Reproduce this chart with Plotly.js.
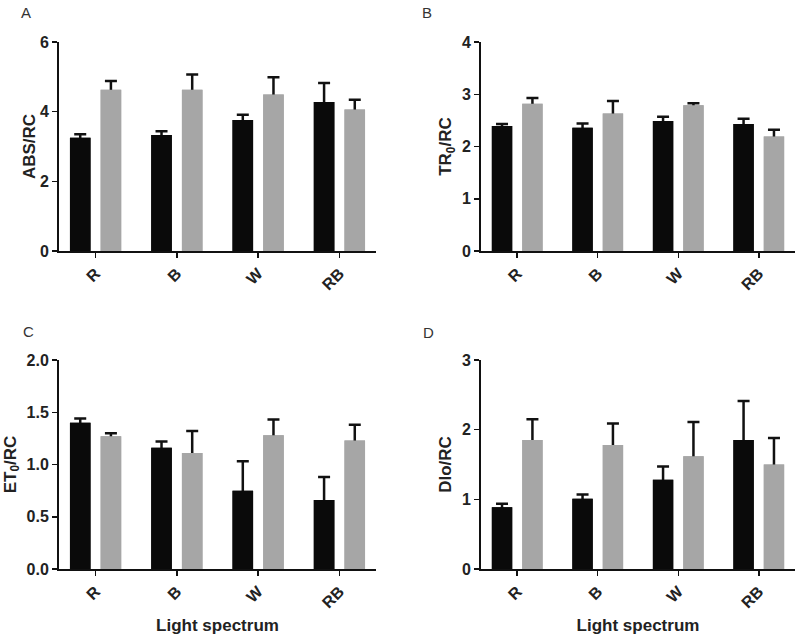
<!DOCTYPE html>
<html>
<head>
<meta charset="utf-8">
<script src="https://cdn.plot.ly/plotly-3.0.1.min.js"></script>
<style>html,body{margin:0;padding:0;background:#fff;}#chart{width:800px;height:640px;}</style>
</head>
<body>
<div id="chart"></div>
<script>
// ---- data ----
const categories = ['R', 'B', 'W', 'RB'];

const absBlack    = [3.25, 3.33, 3.76, 4.28];
const absBlackErr = [0.10, 0.11, 0.15, 0.54];
const absGray     = [4.63, 4.63, 4.49, 4.06];
const absGrayErr  = [0.25, 0.44, 0.50, 0.28];

const trBlack     = [2.39, 2.36, 2.49, 2.43];
const trBlackErr  = [0.04, 0.08, 0.08, 0.10];
const trGray      = [2.82, 2.63, 2.79, 2.19];
const trGrayErr   = [0.11, 0.24, 0.04, 0.13];

const etBlack     = [1.40, 1.16, 0.75, 0.66];
const etBlackErr  = [0.04, 0.06, 0.28, 0.22];
const etGray      = [1.27, 1.11, 1.28, 1.23];
const etGrayErr   = [0.03, 0.21, 0.15, 0.15];

const dioBlack    = [0.885, 1.01, 1.28, 1.85];
const dioBlackErr = [0.05, 0.06, 0.19, 0.56];
const dioGray     = [1.85, 1.78, 1.62, 1.50];
const dioGrayErr  = [0.30, 0.31, 0.49, 0.38];

const panelLetters = ['A', 'B', 'C', 'D'];
const yTitles = ['ABS/RC', 'TR<sub>0</sub>/RC', 'ET<sub>0</sub>/RC', 'DIo/RC'];
const xTitle = 'Light spectrum';

// ---- styling ----
const BLACK = '#0a0a0a';
const GRAY = '#a6a6a6';
const FONT = 'Liberation Sans, Arial, sans-serif';

const panels = [
  {b: absBlack, be: absBlackErr, g: absGray, ge: absGrayErr},
  {b: trBlack,  be: trBlackErr,  g: trGray,  ge: trGrayErr},
  {b: etBlack,  be: etBlackErr,  g: etGray,  ge: etGrayErr},
  {b: dioBlack, be: dioBlackErr, g: dioGray, ge: dioGrayErr}
];

const traces = [];
panels.forEach((p, i) => {
  const n = i === 0 ? '' : String(i + 1);
  const xa = 'x' + n, ya = 'y' + n;
  const mk = (vals, errs, color, grp, withErr) => {
    const t = {
      type: 'bar', x: categories, y: vals, xaxis: xa, yaxis: ya,
      offsetgroup: grp, marker: {color: color, line: {width: 0}},
      showlegend: false, hoverinfo: 'y'
    };
    if (withErr) {
      t.error_y = {type: 'data', symmetric: false, array: errs, arrayminus: vals,
                   color: '#111', thickness: 2.5, width: 6};
    }
    return t;
  };
  // bars with up-only error bars, then same bars on top to hide the lower part
  traces.push(mk(p.b, p.be, BLACK, 'g1', true));
  traces.push(mk(p.g, p.ge, GRAY, 'g2', true));
  traces.push(mk(p.b, p.be, BLACK, 'g1', false));
  traces.push(mk(p.g, p.ge, GRAY, 'g2', false));
});

const xDomL = [59 / 800, 376 / 800];
const xDomR = [481 / 800, 795 / 800];
const yDomT = [(640 - 251) / 640, (640 - 42) / 640];
const yDomB = [(640 - 569) / 640, (640 - 360) / 640];

const yRanges = [[0, 6], [0, 4], [0, 2], [0, 3]];
const yDticks = [2, 1, 0.5, 1];
const yFormats = ['', '', '.1f', ''];
const yStandoff = [0, 6, 6, 6];

function xAxis(dom, anchor, showTitle) {
  const ax = {
    domain: dom, anchor: anchor, range: [-0.45, 3.45], type: 'category',
    showline: true, linecolor: '#111', linewidth: 2, mirror: false,
    ticks: 'outside', ticklen: 5, tickwidth: 1.5, tickcolor: '#111',
    tickangle: -45, showgrid: false, zeroline: false, fixedrange: true,
    tickfont: {family: FONT, size: 16, color: '#222', weight: 'bold'}
  };
  if (showTitle) {
    ax.title = {text: xTitle, standoff: 9, font: {family: FONT, size: 17, color: '#222', weight: 'bold'}};
  }
  return ax;
}
function yAxis(i, dom, anchor) {
  return {
    domain: dom, anchor: anchor, range: yRanges[i], dtick: yDticks[i], tick0: 0,
    tickformat: yFormats[i],
    showline: true, linecolor: '#111', linewidth: 2,
    ticks: 'outside', ticklen: 5, tickwidth: 1.5, tickcolor: '#111',
    showgrid: false, zeroline: false, fixedrange: true,
    tickfont: {family: FONT, size: 16, color: '#222', weight: 'bold'},
    title: {text: yTitles[i], standoff: yStandoff[i], font: {family: FONT, size: 17, color: '#222', weight: 'bold'}}
  };
}

const letterPos = [[26, 12], [427, 12], [28, 331], [428, 332]];

const layout = {
  width: 800, height: 640,
  margin: {l: 0, r: 0, t: 0, b: 0},
  paper_bgcolor: '#fff', plot_bgcolor: '#fff',
  barmode: 'group', bargap: 0.245, bargroupgap: 0.33,
  showlegend: false,
  xaxis: xAxis(xDomL, 'y', false),
  yaxis: yAxis(0, yDomT, 'x'),
  xaxis2: xAxis(xDomR, 'y2', false),
  yaxis2: yAxis(1, yDomT, 'x2'),
  xaxis3: xAxis(xDomL, 'y3', true),
  yaxis3: yAxis(2, yDomB, 'x3'),
  xaxis4: xAxis(xDomR, 'y4', true),
  yaxis4: yAxis(3, yDomB, 'x4'),
  annotations: panelLetters.map((t, i) => ({
    text: t, xref: 'paper', yref: 'paper',
    x: letterPos[i][0] / 800, y: 1 - letterPos[i][1] / 640,
    xanchor: 'center', yanchor: 'middle', showarrow: false,
    font: {family: FONT, size: 15, color: '#333'}
  }))
};

Plotly.newPlot('chart', traces, layout, {displayModeBar: false, staticPlot: true});
</script>
</body>
</html>
